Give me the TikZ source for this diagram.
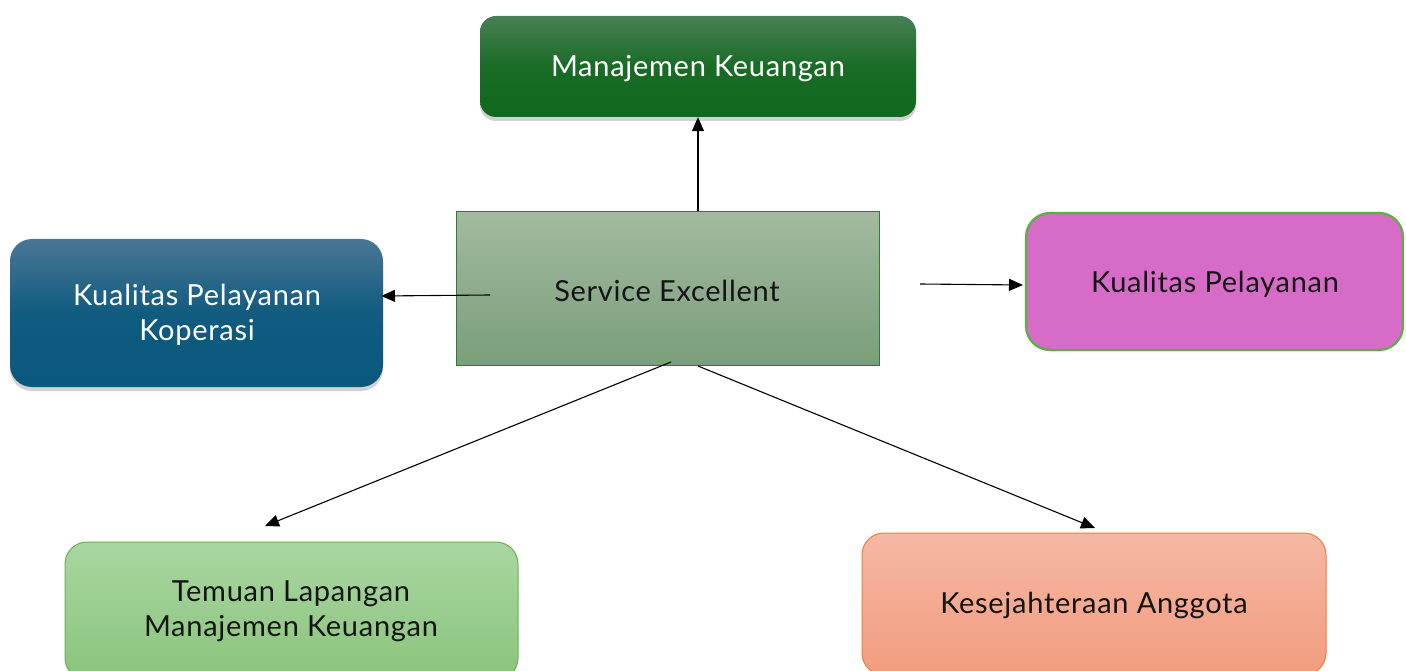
\documentclass[tikz,border=0pt]{standalone}
\usepackage{fontspec}
\setmainfont{Lato}[LetterSpace=2.5]
\usetikzlibrary{arrows.meta,shadows}

\definecolor{mkTop}{RGB}{72,128,84}
\definecolor{mkBot}{RGB}{17,104,30}
\definecolor{kpkTop}{RGB}{74,118,148}
\definecolor{kpkBot}{RGB}{10,88,125}
\definecolor{seTop}{RGB}{162,186,161}
\definecolor{seBot}{RGB}{122,158,122}
\definecolor{seLine}{RGB}{48,122,52}
\definecolor{kpFill}{RGB}{214,108,199}
\definecolor{kpLine}{RGB}{92,176,67}
\definecolor{tlTop}{RGB}{169,214,161}
\definecolor{tlBot}{RGB}{138,196,124}
\definecolor{tlLine}{RGB}{110,176,80}
\definecolor{kaTop}{RGB}{245,184,164}
\definecolor{kaBot}{RGB}{242,156,126}
\definecolor{kaLine}{RGB}{237,125,60}
\definecolor{txt}{RGB}{20,20,20}

\tikzset{
  box/.style={rectangle, align=center, font=\fontsize{29}{35}\selectfont, inner sep=0pt},
  shade/.style={drop shadow={opacity=0.35, shadow xshift=0pt, shadow yshift=-4pt}},
  arr/.style={-{Triangle[length=14pt,width=12pt]}, line width=1.1pt, black},
}

\begin{document}
\begin{tikzpicture}[x=1pt,y=-1pt]
\clip (0,0) rectangle (1406,671);
\fill[white] (0,0) rectangle (1406,671);

% boxes
\node[box, shade, rounded corners=16pt, minimum width=436pt, minimum height=101pt,
      top color=mkTop, bottom color=mkBot, middle color=mkBot!85!mkTop]
      (mk) at (698,66.5) {};
\node[box, shade, rounded corners=22pt, minimum width=373pt, minimum height=148pt,
      top color=kpkTop, bottom color=kpkBot, middle color=kpkBot!90!kpkTop]
      (kpk) at (196.5,313) {};
\node[box, draw=seLine, line width=1pt, minimum width=423pt, minimum height=153pt,
      top color=seTop, bottom color=seBot]
      (se) at (667.5,288.5) {};
\node[box, draw=kpLine, line width=2.2pt, rounded corners=24pt, minimum width=377pt, minimum height=137pt,
      fill=kpFill]
      (kp) at (1214.5,281.5) {};
\node[box, draw=tlLine, line width=1pt, rounded corners=22pt, minimum width=453pt, minimum height=138pt,
      top color=tlTop, bottom color=tlBot]
      (tl) at (291.5,611) {};
\node[box, draw=kaLine, line width=1pt, rounded corners=22pt, minimum width=464pt, minimum height=142pt,
      top color=kaTop, bottom color=kaBot]
      (ka) at (1094,604) {};

% labels
\node[box, text=white] (mkText) at (698,69) {Manajemen Keuangan};
\node[box, text=white] (kpkText) at (197,315) {Kualitas Pelayanan\\Koperasi};
\node[box, text=txt] (seText) at (667,291) {Service Excellent};
\node[box, text=txt] (kpText) at (1215,284) {Kualitas Pelayanan};
\node[box, text=txt] (tlText) at (291,611) {Temuan Lapangan\\Manajemen Keuangan};
\node[box, text=txt] (kaText) at (1094,605) {Kesejahteraan Anggota};

% connector start and end points
\coordinate (sUp) at (698,211);
\coordinate (sLeft) at (490,295);
\coordinate (eLeft) at (381,296);
\coordinate (sRight) at (920,284);
\coordinate (eRight) at (1023,285);
\coordinate (sDL) at (671,362);
\coordinate (eDL) at (265,526);
\coordinate (sDR) at (698,366);
\coordinate (eDR) at (1095,528);

% connectors
\draw[arr] (sUp) -- (mk.south);
\draw[arr] (sLeft) -- (eLeft);
\draw[arr] (sRight) -- (eRight);
\draw[arr] (sDL) -- (eDL);
\draw[arr] (sDR) -- (eDR);
\end{tikzpicture}
\end{document}
